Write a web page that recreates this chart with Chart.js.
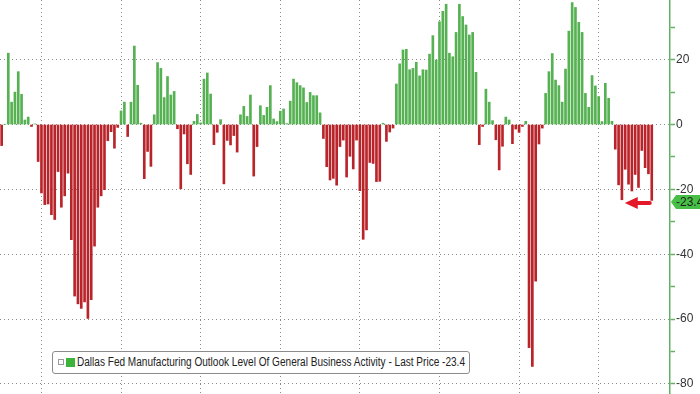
<!DOCTYPE html>
<html>
<head>
<meta charset="utf-8">
<script src="https://cdn.jsdelivr.net/npm/chart.js@4.4.0/dist/chart.umd.min.js"></script>
<style>
  html, body { margin: 0; padding: 0; background: #fff; }
  #wrap { position: relative; width: 700px; height: 394px; overflow: hidden; }
  #legend {
    position: absolute; left: 52px; top: 351px; width: 418px; height: 23px;
    box-sizing: border-box; border: 1px solid #8c8c8c; border-radius: 3px; background: #fff;
  }
  #legend .icon { position: absolute; left: 5px; top: 7px; width: 4px; height: 4px; border: 1px solid #9a9a9a; }
  #legend .sw { position: absolute; left: 13px; top: 6px; width: 9px; height: 9px; background: #3cb43c; }
  #ltext {
    position: absolute; left: 24px; top: 3px; white-space: nowrap; color: #222;
    font: 12px "Liberation Sans Narrow", "Arial Narrow", "Liberation Sans", sans-serif;
    transform-origin: left center;
  }
</style>
</head>
<body>
<div id="wrap">
  <canvas id="chart" width="700" height="394"></canvas>
  <div id="legend"><span class="icon"></span><span class="sw"></span><span id="ltext">Dallas Fed Manufacturing Outlook Level Of General Business Activity - Last Price -23.4</span></div>
</div>
<script>
// Monthly readings, Dec 2006 .. Apr 2023
const startYear = 2006;
const startMonth = 11; // December
const activity = [
  -6.5, 0, 22, 6.9, 10, 16.3, 9.3, 1.4, 2.3, -0.6, 0.2, -11.4,
  -21.1, -24.7, -24.5, -27.8, -29.3, -14.5, -25.5, -22, -15, -35.5, -52.9, -55.3,
  -56.7, -54.7, -59.8, -54, -37.5, -25.5, -22, -20.1, -5, -2.2, -7.3, -0.9,
  4.2, 6.9, -3.7, 6.9, 24.2, 12.1, 0.4, -16.7, -8.3, -12.9, 3, 19.1,
  17.3, 8.3, 14.8, 9.1, 10.2, -1.3, -19.8, -2.9, -12.1, -15.4, 1, 3.1,
  0.5, 14, 15.9, 9.4, -6.2, -2.4, 1.5, -18.3, -4.9, -6.3, -3.4, -8.5,
  3, 5.6, 2.5, 9.1, -15.9, -6.8, 5.8, 2.8, 5.3, 12, 1.7, 0.9,
  4.1, 4.8, 0.3, 7.2, 14, 12.9, 12, 11.3, 6.8, 9.9, 8.9, 8.9,
  3.6, -4.3, -13, -17.1, -16.6, -18.7, -6.8, -4.8, -16.2, -9.8, -13.7, -4.8,
  -20.4, -35.4, -32.5, -11.7, -12, -17.6, -17.5, 0.4, -5.2, -2.3, -1.1, 12.5,
  18.7, 23, 23.2, 16.9, 17.3, 19.2, 15, 16.9, 16.8, 21.7, 27.4, 19.9,
  31.7, 34.9, 37.1, 22, 20.9, 28.4, 37.1, 33.3, 30.7, 27.6, 28.4, 16.1,
  -6.2, -0.6, 10.9, 6.9, 1.2, -4.7, -14, -6.7, 2.3, 1.4, -5.9, -1.4,
  -2.4, -0.6, 1, -68.8, -74.6, -48.3, -6, -1.1, 9.6, 16.3, 21.9, 13.7,
  12, 6.9, 17.1, 28.8, 37.6, 36.1, 31.5, 28.4, 9.6, 5.3, 15.1, 11.9,
  8.6, 0.9, 12.7, 8.1, 1, -7.6, -18.6, -23.2, -13.8, -18.4, -20.5, -15.4,
  -19.4, -8, -13.3, -15.2, -23.4
];
const blankMonths = 5;            // empty space after the last bar
const yTicks = [30, 20, 10, 0, -10, -20, -30, -40, -50, -60, -70, -80];
const yLabelStep = 20;

const months = [];
for (let i = 0; i < activity.length + blankMonths; i++) {
  const m = startMonth + i;
  months.push({ year: startYear + Math.floor(m / 12), month: m % 12 });
}
const labels = months.map(d => d.year + "-" + String(d.month + 1).padStart(2, "0"));

const GREEN = "#55b152";
const RED = "#b9242a";
const AXIS_GREEN = "#62b062";
const GRID = "#8a8a8a";
const FONT = "'Liberation Sans Narrow', 'Arial Narrow', 'Liberation Sans', sans-serif";

// last value tag and the red arrow
const lastTag = {
  id: "lastTag",
  afterDatasetsDraw(chart) {
    const { ctx, scales: { x, y }, chartArea } = chart;
    const last = activity[activity.length - 1];
    const py = y.getPixelForValue(last) + 1.5;
    const left = chartArea.right + 1;
    ctx.save();
    ctx.fillStyle = "#47bf47";
    ctx.beginPath();
    ctx.moveTo(left, py);
    ctx.lineTo(left + 5, py - 7);
    ctx.lineTo(702, py - 7);
    ctx.lineTo(702, py + 7);
    ctx.lineTo(left + 5, py + 7);
    ctx.closePath();
    ctx.fill();
    ctx.fillStyle = "#1e1e1e";
    ctx.font = "12px " + FONT;
    ctx.textBaseline = "middle";
    ctx.fillText(last.toFixed(1), left + 5, py + 0.5);

    // arrow
    const xe = x.getPixelForValue(activity.length - 1);
    const ay = py + 1;
    ctx.strokeStyle = "#e3192a";
    ctx.fillStyle = "#e3192a";
    ctx.lineWidth = 4;
    ctx.lineCap = "round";
    ctx.beginPath();
    ctx.moveTo(xe - 2, ay);
    ctx.lineTo(xe - 15, ay);
    ctx.stroke();
    ctx.beginPath();
    ctx.moveTo(xe - 27, ay);
    ctx.lineTo(xe - 14, ay - 6);
    ctx.lineTo(xe - 14, ay + 6);
    ctx.closePath();
    ctx.fill();
    ctx.restore();
  }
};

const ctx = document.getElementById("chart").getContext("2d");
const chart = new Chart(ctx, {
  type: "bar",
  data: {
    labels: labels,
    datasets: [
      {
        label: "Dallas Fed Manufacturing Outlook Level Of General Business Activity",
        data: activity,
        backgroundColor: activity.map(v => (v >= 0 ? GREEN : RED)),
        barThickness: 2,
      },
    ],
  },
  options: {
    responsive: false,
    animation: false,
    layout: { padding: 0 },
    plugins: {
      legend: { display: false },
      tooltip: { enabled: false },
    },
    scales: {
      x: {
        offset: true,
        ticks: { display: false, autoSkip: false },
        border: { display: false, dash: [1, 3] },
        grid: {
          offset: false,
          drawTicks: false,
          lineWidth: 1,
          // a line between December of odd years and January
          color: (c) => {
            const d = months[c.index];
            return d && d.month === 11 && d.year % 2 === 1 ? GRID : "rgba(0,0,0,0)";
          },
        },
        afterFit: (scale) => {
          scale.height = 0;
          scale.paddingLeft = 0;
          scale.paddingRight = 0;
        },
      },
      y: {
        position: "right",
        min: -83.1,
        max: 38.4,
        afterBuildTicks: (scale) => { scale.ticks = yTicks.map(v => ({ value: v })); },
        afterFit: (scale) => {
          scale.width = 30;
          scale.paddingTop = 0;
          scale.paddingBottom = 0;
        },
        border: { display: true, color: AXIS_GREEN, width: 1.5, dash: [1, 3] },
        grid: {
          lineWidth: 1,
          tickLength: 5,
          tickWidth: 1.5,
          tickColor: AXIS_GREEN,
          color: (c) => (c.tick && c.tick.value % yLabelStep === 0 ? GRID : "rgba(0,0,0,0)"),
        },
        ticks: {
          padding: 1,
          color: "#333",
          font: { family: FONT, size: 12 },
          callback: (v) => (v % yLabelStep === 0 ? v : ""),
        },
      },
    },
  },
  plugins: [lastTag],
});

// squeeze the legend text to the width it has in the picture
const lt = document.getElementById("ltext");
const w = lt.getBoundingClientRect().width;
lt.style.transform = "scaleX(" + (388 / w) + ")";
</script>
</body>
</html>
